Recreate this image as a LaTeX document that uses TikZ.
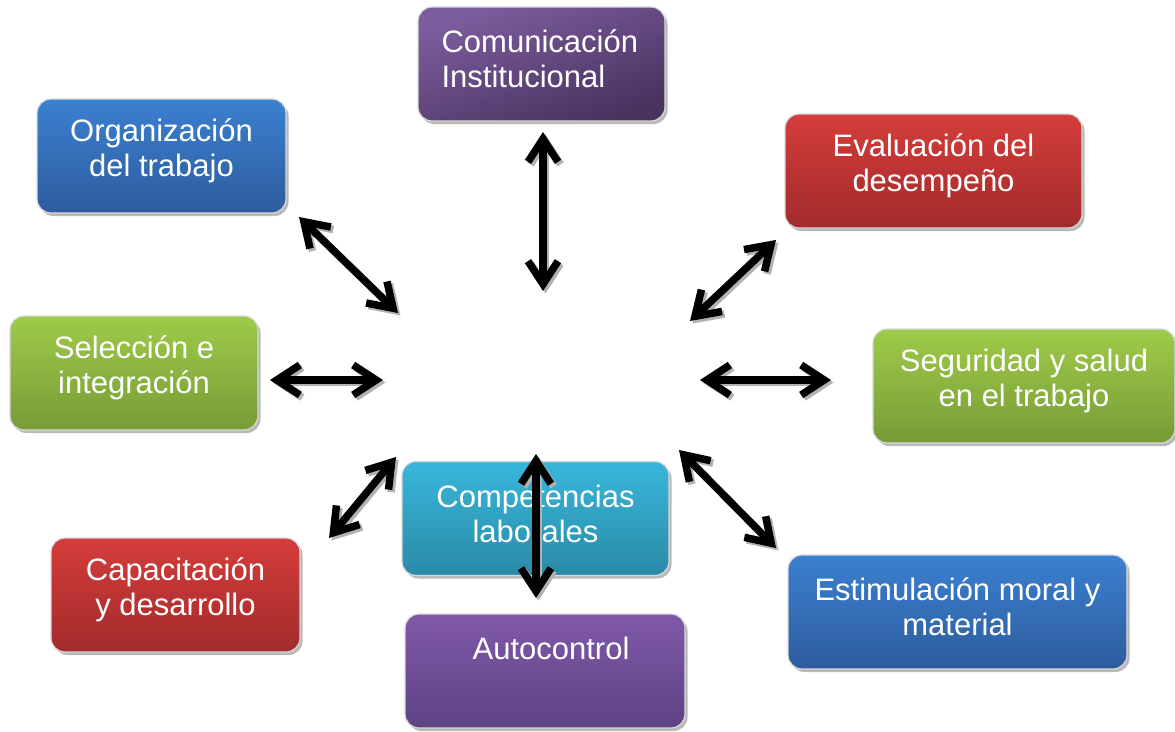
\documentclass[tikz,border=0pt]{standalone}
\usepackage{fontspec}
\setmainfont{Liberation Sans}
\usetikzlibrary{arrows.meta,shadows}

\definecolor{purpleA}{HTML}{7C5D9E}
\definecolor{purpleB}{HTML}{48335F}
\definecolor{violetA}{HTML}{7F59A9}
\definecolor{violetB}{HTML}{5E4284}
\definecolor{blueA}{HTML}{3B80D1}
\definecolor{blueB}{HTML}{2D5C9D}
\definecolor{redA}{HTML}{D43D3B}
\definecolor{redB}{HTML}{A22B2B}
\definecolor{greenA}{HTML}{9ECB49}
\definecolor{greenB}{HTML}{789B37}
\definecolor{cyanA}{HTML}{38B7DB}
\definecolor{cyanB}{HTML}{2A8AA7}

\tikzset{
    box/.style={rounded corners=14pt, draw=white!85!black, line width=1.2pt,
        minimum height=114pt, inner sep=0pt,
        drop shadow={shadow xshift=2.5pt, shadow yshift=-3pt, fill=black!50, opacity=0.55}},
    purplebox/.style={box, top color=purpleA, bottom color=purpleB, shading angle=20},
    violetbox/.style={box, top color=violetA, bottom color=violetB},
    bluebox/.style={box, top color=blueA, bottom color=blueB},
    redbox/.style={box, top color=redA, bottom color=redB},
    greenbox/.style={box, top color=greenA, bottom color=greenB},
    cyanbox/.style={box, top color=cyanA, bottom color=cyanB},
    boxtext/.style={text=white, align=center, inner sep=0pt,
        font=\fontsize{31}{35}\selectfont},
    arr/.style={line width=7.5pt, line cap=round,
        {Straight Barb[length=23pt,width=30pt]}-{Straight Barb[length=23pt,width=30pt]}},
    arrshadow/.style={arr, draw=black!30, transform canvas={shift={(2.5pt,-2.5pt)}}},
}

\begin{document}
\begin{tikzpicture}[x=1pt,y=-1pt]
    \fill[white] (0,0) rectangle (1175,731);
    \useasboundingbox (0,0) rectangle (1175,731);

    % boxes
    \node[purplebox, minimum width=247pt] (com) at (541.5,64) {};
    \node[bluebox, minimum width=249pt] (org) at (161.5,156) {};
    \node[redbox, minimum width=297pt] (eva) at (933.5,171) {};
    \node[greenbox, minimum width=248pt] (sel) at (134,373) {};
    \node[greenbox, minimum width=302pt] (seg) at (1024,386) {};
    \node[redbox, minimum width=249pt] (cap) at (175.5,595) {};
    \node[bluebox, minimum width=339pt] (est) at (957.5,612) {};
    \node[violetbox, minimum width=280pt] (aut) at (545,671) {};
    \node[cyanbox, minimum width=267pt] (comp) at (535.5,518.5) {};

    % texts
    \node[boxtext, align=left, anchor=west] (comtxt) at ([xshift=24pt,yshift=5pt]com.west) {Comunicación\\Institucional};
    \node[boxtext] (orgtxt) at ([yshift=5pt]org.center) {Organización\\del trabajo};
    \node[boxtext] (evatxt) at ([yshift=5pt]eva.center) {Evaluación del\\desempeño};
    \node[boxtext] (seltxt) at ([yshift=5pt]sel.center) {Selección e\\integración};
    \node[boxtext] (segtxt) at ([yshift=5pt]seg.center) {Seguridad y salud\\en el trabajo};
    \node[boxtext] (captxt) at ([yshift=5pt]cap.center) {Capacitación\\y desarrollo};
    \node[boxtext] (esttxt) at ([yshift=5pt]est.center) {Estimulación moral y\\material};
    \node[boxtext] (auttxt) at ([xshift=6pt,yshift=23pt]aut.center) {Autocontrol};
    \node[boxtext] (comptxt) at ([yshift=5pt]comp.center) {Competencias\\laborales};

    % arrow ends
    \coordinate (t1) at (543,132);
    \coordinate (t2) at (543,291);
    \coordinate (o1) at (299,217);
    \coordinate (o2) at (398,313);
    \coordinate (e1) at (776,240);
    \coordinate (e2) at (690,321);
    \coordinate (s1) at (270,380);
    \coordinate (s2) at (383,380);
    \coordinate (g1) at (831,380);
    \coordinate (g2) at (700,380);
    \coordinate (p1) at (329,538);
    \coordinate (p2) at (396,457);
    \coordinate (m1) at (776,548);
    \coordinate (m2) at (679,450);
    \coordinate (k1) at (536,454);
    \coordinate (k2) at (536,598);

    \foreach \a/\b in {t1/t2, o1/o2, e1/e2, s1/s2, g1/g2, p1/p2, m1/m2, k1/k2} {
        \draw[arrshadow] (\a) -- (\b);
        \draw[arr] (\a) -- (\b);
    }
\end{tikzpicture}
\end{document}
